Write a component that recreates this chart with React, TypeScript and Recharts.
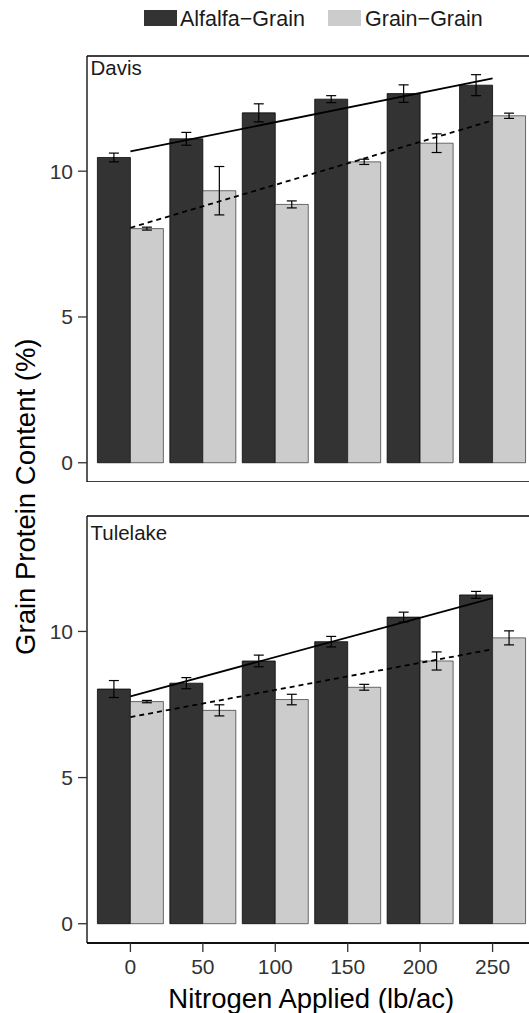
import React from 'react';
import { ComposedChart, Bar, Line, XAxis, YAxis, ErrorBar, ReferenceLine } from 'recharts';

// ---- data ----
const nitrogen = ['0', '50', '100', '150', '200', '250'];
const seriesNames = ['Alfalfa\u2212Grain', 'Grain\u2212Grain'];
const seriesColors = ['#333333', '#cccccc'];

const davisAlfalfa = [10.47, 11.11, 12.0, 12.47, 12.66, 12.95];
const davisAlfalfaSE = [0.15, 0.22, 0.31, 0.12, 0.3, 0.36];
const davisGrain = [8.03, 9.33, 8.86, 10.32, 10.96, 11.9];
const davisGrainSE = [0.05, 0.83, 0.12, 0.09, 0.32, 0.09];
const davisAlfalfaFit = [10.68, null, null, null, null, 13.18];
const davisGrainFit = [8.06, null, null, null, null, 11.74];

const tuleAlfalfa = [8.03, 8.23, 8.99, 9.65, 10.49, 11.25];
const tuleAlfalfaSE = [0.29, 0.19, 0.2, 0.18, 0.17, 0.12];
const tuleGrain = [7.6, 7.3, 7.67, 8.09, 8.99, 9.78];
const tuleGrainSE = [0.04, 0.19, 0.18, 0.1, 0.31, 0.24];
const tuleAlfalfaFit = [7.78, null, null, null, null, 11.14];
const tuleGrainFit = [7.07, null, null, null, null, 9.39];

const yTicks = [0, 5, 10];
const yDomain: [number, number] = [-0.66, 13.95];

const FONT = '"Liberation Sans", Arial, Helvetica, sans-serif';

type PanelProps = {
  a: number[]; aSE: number[]; g: number[]; gSE: number[];
  aFit: (number | null)[]; gFit: (number | null)[];
  showX: boolean; top: number; marginTop: number; height: number;
};

function Panel({ a, aSE, g, gSE, aFit, gFit, showX, top, marginTop, height }: PanelProps) {
  const data = nitrogen.map((n, i) => ({
    n, a: a[i], aSE: aSE[i], g: g[i], gSE: gSE[i], aFit: aFit[i], gFit: gFit[i],
  }));
  return (
    <div style={{ position: 'absolute', left: 0, top }}>
      <ComposedChart
        width={536}
        height={height}
        data={data}
        margin={{ top: marginTop, right: 0, bottom: 0, left: 0 }}
        barCategoryGap={3.2}
        barGap={0}
      >
        <XAxis
          dataKey="n"
          interval={0}
          padding={{ left: 7.2, right: 7.2 }}
          axisLine={{ stroke: '#000', strokeWidth: 1.3 }}
          tickLine={showX ? { stroke: '#333', strokeWidth: 1.3 } : false}
          tick={showX ? { fill: '#333', fontSize: 21, fontFamily: FONT } : false}
          tickSize={9}
          tickMargin={7}
          height={showX ? 45 : 0}
        />
        <YAxis
          domain={yDomain}
          ticks={yTicks}
          allowDataOverflow
          width={87}
          axisLine={{ stroke: '#000', strokeWidth: 1.3 }}
          tickLine={{ stroke: '#333', strokeWidth: 1.3 }}
          tick={{ fill: '#333', fontSize: 21, fontFamily: FONT }}
          tickSize={9}
          tickMargin={5}
        />
        <ReferenceLine y={yDomain[1]} stroke="#000" strokeWidth={1.3} />
        <ReferenceLine y={yDomain[0]} stroke="#000" strokeWidth={1.3} />
        <Bar dataKey="a" fill={seriesColors[0]} stroke="#000" strokeOpacity={0.75} strokeWidth={1} isAnimationActive={false}>
          <ErrorBar dataKey="aSE" width={5} stroke="#000" strokeWidth={1.2} />
        </Bar>
        <Bar dataKey="g" fill={seriesColors[1]} stroke="#000" strokeOpacity={0.55} strokeWidth={1} isAnimationActive={false}>
          <ErrorBar dataKey="gSE" width={5} stroke="#000" strokeWidth={1.2} />
        </Bar>
        <Line dataKey="aFit" connectNulls dot={false} activeDot={false} stroke="#000" strokeWidth={1.8} isAnimationActive={false} />
        <Line dataKey="gFit" connectNulls dot={false} activeDot={false} stroke="#000" strokeWidth={1.8} strokeDasharray="5 4" isAnimationActive={false} />
      </ComposedChart>
    </div>
  );
}

export default function App() {
  return (
    <div style={{ position: 'fixed', left: 0, top: 0, width: 529, height: 1013, overflow: 'hidden', background: '#fff' }}>
      <Panel a={davisAlfalfa} aSE={davisAlfalfaSE} g={davisGrain} gSE={davisGrainSE}
        aFit={davisAlfalfaFit} gFit={davisGrainFit} showX={false} top={0} marginTop={56} height={482} />
      <Panel a={tuleAlfalfa} aSE={tuleAlfalfaSE} g={tuleGrain} gSE={tuleGrainSE}
        aFit={tuleAlfalfaFit} gFit={tuleGrainFit} showX={true} top={482} marginTop={34} height={506} />
      <svg width={529} height={1013} style={{ position: 'absolute', left: 0, top: 0, pointerEvents: 'none' }}
        fontFamily={FONT}>
        {/* legend */}
        <rect x={144} y={10} width={33} height={16} fill={seriesColors[0]} />
        <text x={180} y={26} fontSize={21.5} fill="#1a1a1a">{seriesNames[0]}</text>
        <rect x={328} y={10} width={33} height={16} fill={seriesColors[1]} />
        <text x={365} y={26} fontSize={21.5} fill="#1a1a1a">{seriesNames[1]}</text>
        {/* panel labels */}
        <text x={90.5} y={75} fontSize={20.5} fill="#1a1a1a">Davis</text>
        <text x={90.5} y={539.5} fontSize={20.5} fill="#1a1a1a">Tulelake</text>
        {/* axis titles */}
        <text x={311.3} y={1008} fontSize={27.5} fill="#000" textAnchor="middle">Nitrogen Applied (lb/ac)</text>
        <text transform="translate(35, 496.7) rotate(-90)" fontSize={27.5} fill="#000" textAnchor="middle">Grain Protein Content (%)</text>
      </svg>
    </div>
  );
}
